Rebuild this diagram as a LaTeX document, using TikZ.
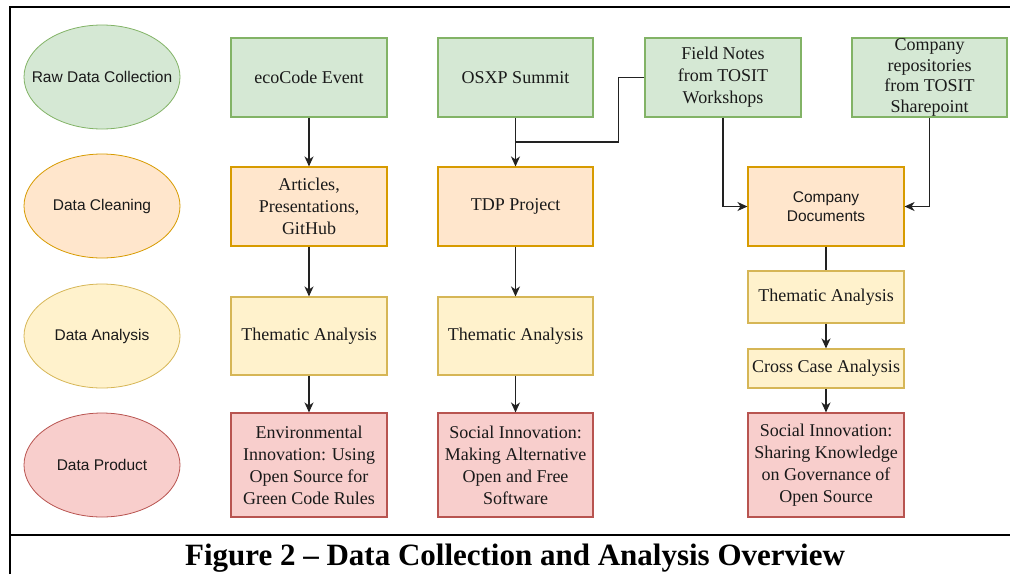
\documentclass[tikz,border=0pt]{standalone}
\usepackage{fontspec}
\setmainfont{Liberation Serif}
\setsansfont{Liberation Sans}
\usetikzlibrary{shapes.geometric,arrows.meta}
\definecolor{gfill}{HTML}{D5E8D4}\definecolor{gdraw}{HTML}{82B366}
\definecolor{ofill}{HTML}{FFE6CC}\definecolor{odraw}{HTML}{D79B00}
\definecolor{yfill}{HTML}{FFF2CC}\definecolor{ydraw}{HTML}{D6B656}
\definecolor{rfill}{HTML}{F8CECC}\definecolor{rdraw}{HTML}{B85450}
\definecolor{txt}{HTML}{1A1A1A}
\definecolor{lnc}{HTML}{222222}
\newcommand{\zbox}[1]{\makebox[0pt]{#1}}
\begin{document}
\begin{tikzpicture}[x=1pt,y=-1pt,
  base/.style={draw, line width=1.1pt, inner sep=0pt, align=center, text=txt,
    font=\fontsize{18}{22}\selectfont},
  gbox/.style={base, fill=gfill, draw=gdraw},
  obox/.style={base, fill=ofill, draw=odraw},
  ybox/.style={base, fill=yfill, draw=ydraw},
  rbox/.style={base, fill=rfill, draw=rdraw},
  lab/.style={ellipse, draw, line width=0.8pt, inner sep=0pt, minimum width=156pt,
    minimum height=104pt, text=txt, font=\sffamily\fontsize{15.5}{19}\selectfont},
  arr/.style={draw=lnc, line width=1.2pt, -{Stealth[length=10pt,width=9pt,inset=3pt]}},
  ln/.style={draw=lnc, line width=1.2pt},
  frame/.style={line width=2.2pt, black}]
\useasboundingbox (0,0) rectangle (1010,574);
% frame
\draw[frame] (10,574) -- (10,7) -- (1010,7);
\draw[frame] (10,535) -- (1010,535);
% row labels
\node[lab, fill=gfill, draw=gdraw] (l1) at (102,77) {\zbox{Raw Data Collection}};
\node[lab, fill=ofill, draw=odraw] (l2) at (102,206) {\zbox{Data Cleaning}};
\node[lab, fill=yfill, draw=ydraw] (l3) at (102,336) {\zbox{Data Analysis}};
\node[lab, fill=rfill, draw=rdraw] (l4) at (102,465) {\zbox{Data Product}};
% column 1
\node[gbox, minimum width=156pt, minimum height=79pt] (eco) at (309,77.5) {ecoCode Event};
\node[obox, minimum width=156pt, minimum height=79pt] (art) at (309,206.5) {Articles,\\Presentations,\\GitHub};
\node[ybox, minimum width=156pt, minimum height=78pt] (ta1) at (309,336) {Thematic Analysis};
\node[rbox, minimum width=156pt, minimum height=104pt] (env) at (309,465) {Environmental\\Innovation: Using\\Open Source for\\Green Code Rules};
% column 2
\node[gbox, minimum width=155pt, minimum height=79pt] (osxp) at (515.5,77.5) {OSXP Summit};
\node[obox, minimum width=155pt, minimum height=79pt] (tdp) at (515.5,206.5) {TDP Project};
\node[ybox, minimum width=155pt, minimum height=78pt] (ta2) at (515.5,336) {Thematic Analysis};
\node[rbox, minimum width=155pt, minimum height=104pt] (soc2) at (515.5,465) {Social Innovation:\\Making Alternative\\Open and Free\\Software};
% column 3
\node[gbox, minimum width=156pt, minimum height=79pt] (fn) at (723,77.5) {Field Notes\\from TOSIT\\Workshops};
\node[gbox, minimum width=155pt, minimum height=79pt, font=\fontsize{18}{20.5}\selectfont] (cr) at (929.5,77.5) {Company\\repositories\\from TOSIT\\Sharepoint};
\node[obox, minimum width=156pt, minimum height=79pt, font=\sffamily\fontsize{15.5}{19}\selectfont] (cd) at (826,206.5) {Company\\Documents};
\node[ybox, minimum width=156pt, minimum height=52pt] (ta3) at (826,297) {Thematic Analysis};
\node[ybox, minimum width=156pt, minimum height=39pt] (cca) at (826,368.5) {Cross Case Analysis};
\node[rbox, minimum width=156pt, minimum height=104pt] (soc3) at (826,465) {Social Innovation:\\Sharing Knowledge\\on Governance of\\Open Source};
% connectors
\draw[arr] (eco) -- (art);
\draw[arr] (art) -- (ta1);
\draw[arr] (ta1) -- (env);
\draw[arr] (osxp) -- (tdp);
\coordinate (j) at (515.5,142);
\draw[ln] (fn.west) -- ++(-26,0) |- (j);
\draw[arr] (tdp) -- (ta2);
\draw[arr] (ta2) -- (soc2);
\draw[arr] (fn.south) |- (cd.west);
\draw[arr] (cr.south) |- (cd.east);
\draw[ln] (cd) -- (ta3);
\draw[arr] (ta3) -- (cca);
\draw[arr] (cca) -- (soc3);
% caption
\node[font=\bfseries\fontsize{31}{36}\selectfont, anchor=base, text=black] (cap) at (515,565) {Figure 2 – Data Collection and Analysis Overview};
\end{tikzpicture}
\end{document}
